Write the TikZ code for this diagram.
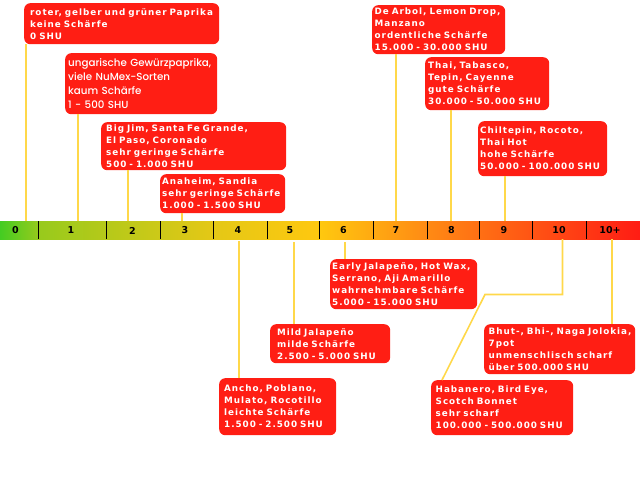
\documentclass[tikz,border=0pt]{standalone}
\usepackage{fontspec}
\usepackage{tikz}
\newfontfamily\chilifont[LetterSpace=11,WordSpace=1.7]{DejaVu Sans Bold}
\newfontfamily\markfont{DejaVu Sans Bold}
\newfontfamily\softfont{Poppins Medium}
\definecolor{chilired}{HTML}{FF1E14}
\definecolor{stem}{HTML}{FFD84A}
\definecolor{heatA}{HTML}{44CC22}
\definecolor{heatB}{HTML}{98CA1C}
\definecolor{heatC}{HTML}{E4C816}
\definecolor{heatD}{HTML}{FFC80F}
\definecolor{heatE}{HTML}{FF8A14}
\definecolor{heatF}{HTML}{FF1C14}
\pgfdeclarehorizontalshading{scoville}{100bp}{color(0bp)=(heatA); color(25bp)=(heatA); color(28.1bp)=(heatB); color(41.6bp)=(heatC); color(50bp)=(heatD); color(58.4bp)=(heatE); color(75bp)=(heatF); color(100bp)=(heatF)}
\tikzset{
 chili/.style={fill=chilired, rounded corners=6pt, text=white, anchor=north west, align=left, inner ysep=0pt, font=\chilifont\fontsize{8.8}{12}\selectfont},
 stemline/.style={draw=stem, line width=1.6pt},
 mark label/.style={font=\markfont\fontsize{9.5}{10}\selectfont, text=black, inner sep=0pt}
}
\begin{document}
\begin{tikzpicture}[x=1pt,y=-1pt]
\useasboundingbox (0,0) rectangle (640,480);
% scale bar
\shade[shading=scoville] (0,221) rectangle (640,239);
\foreach \x in {38.5,106.7,160,213,267,319.5,373,427,479,532,586}
 \draw[black, line width=0.8pt] (\x,221)--(\x,239);
\foreach \x/\lab/\nam in {15.5/0/m0,71/1/m1,132.5/2/m2,185/3/m3,238/4/m4,290/5/m5,343.5/6/m6,396/7/m7,451.5/8/m8,504/9/m9,559/10/m10,610/10+/m11}
 \node[mark label] (\nam) at (\x,230.5) {\lab};

% upper boxes
\node[chili, inner xsep=6pt, text width=183pt, minimum height=41pt] (box0) at (24,3) {roter, gelber und grüner Paprika\\keine Schärfe\\0 SHU};
\node[chili, inner xsep=3pt, text width=146pt, minimum height=61pt, font=\softfont\fontsize{10.3}{14}\selectfont] (box1) at (65,53) {ungarische Gewürzpaprika,\\viele NuMex-Sorten\\kaum Schärfe\\1 - 500 SHU};
\node[chili, inner xsep=5pt, text width=175pt, minimum height=48pt] (box2) at (101,122) {Big Jim, Santa Fe Grande,\\El Paso, Coronado\\sehr geringe Schärfe\\500 - 1.000 SHU};
\node[chili, inner xsep=2pt, text width=121pt, minimum height=39pt] (box3) at (160,174) {Anaheim, Sandia\\sehr geringe Schärfe\\1.000 - 1.500 SHU};
\node[chili, inner xsep=2.5pt, text width=128pt, minimum height=49pt] (box7) at (372,5) {De Arbol, Lemon Drop,\\Manzano\\ordentliche Schärfe\\15.000 - 30.000 SHU};
\node[chili, inner xsep=3pt, text width=118pt, minimum height=53pt] (box8) at (425,57) {Thai, Tabasco,\\Tepin, Cayenne\\gute Schärfe\\30.000 - 50.000 SHU};
\node[chili, inner xsep=2pt, text width=125pt, minimum height=55pt] (box9) at (478,121) {Chiltepin, Rocoto,\\Thai Hot\\hohe Schärfe\\50.000 - 100.000 SHU};

% lower boxes
\node[chili, inner xsep=5pt, text width=107pt, minimum height=57pt] (box4) at (219,378) {Ancho, Poblano,\\Mulato, Rocotillo\\leichte Schärfe\\1.500 - 2.500 SHU};
\node[chili, inner xsep=7pt, text width=106pt, minimum height=39pt] (box5) at (270,324) {Mild Jalapeño\\milde Schärfe\\2.500 - 5.000 SHU};
\node[chili, inner xsep=2pt, text width=143pt, minimum height=50pt] (box6) at (330,259) {Early Jalapeño, Hot Wax,\\Serrano, Aji Amarillo\\wahrnehmbare Schärfe\\5.000 - 15.000 SHU};
\node[chili, inner xsep=4.5pt, text width=133pt, minimum height=55pt] (box10) at (431,380) {Habanero, Bird Eye,\\Scotch Bonnet\\sehr scharf\\100.000 - 500.000 SHU};
\node[chili, inner xsep=4.5pt, text width=142pt, minimum height=50pt] (box11) at (484,324) {Bhut-, Bhi-, Naga Jolokia,\\7pot\\unmenschlisch scharf\\über 500.000 SHU};

% stems
\coordinate (p0) at (26,221);
\coordinate (p1) at (78,221);
\coordinate (p2) at (128,221);
\coordinate (p3) at (182,221);
\coordinate (p4) at (239,241);
\coordinate (p5) at (294,242);
\coordinate (p6) at (345,242);
\coordinate (p7) at (396,221);
\coordinate (p8) at (451,221);
\coordinate (p9) at (505,221);
\coordinate (p10) at (562.5,239);
\coordinate (p11) at (612,239);
\coordinate (q10a) at (562.5,294.5);
\coordinate (q10b) at (485,294.5);
\coordinate (q10c) at (442,380);
\foreach \i in {0,1,2,3,7,8,9}
 \draw[stemline] (p\i) -- (p\i |- box\i.south);
\foreach \i in {4,5,6,11}
 \draw[stemline] (p\i) -- (p\i |- box\i.north);
\draw[stemline] (p10) -- (q10a) -- (q10b) -- (q10c);

\end{tikzpicture}
\end{document}
